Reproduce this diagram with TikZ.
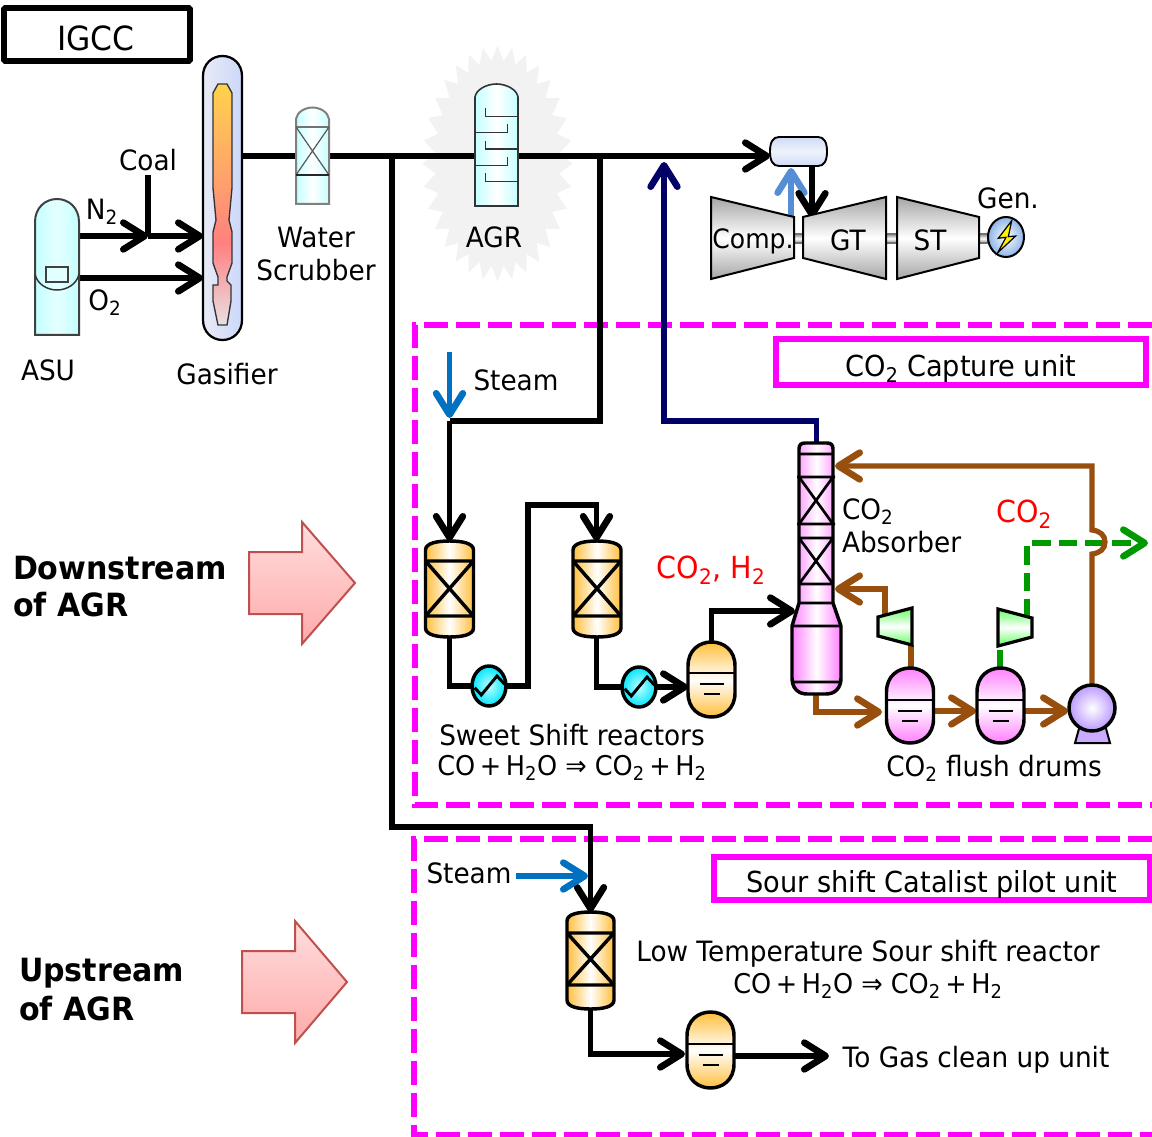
\documentclass[tikz,border=0pt]{standalone}
\usepackage{fontspec}
\setmainfont{DejaVu Sans}[FakeStretch=0.94]
\usetikzlibrary{arrows.meta}
\pgfdeclarelayer{bg}
\pgfsetlayers{bg,main}
\definecolor{brownp}{HTML}{984E0C}
\definecolor{greenp}{HTML}{009A00}
\definecolor{navyp}{HTML}{000066}
\definecolor{bluep}{HTML}{0070C0}
\definecolor{airp}{HTML}{558ED5}
\definecolor{mag}{HTML}{FF00FF}
\definecolor{orangev}{HTML}{FFBE3C}
\definecolor{magv}{HTML}{FF80FF}
\definecolor{cyanv}{HTML}{C4FFFF}
\definecolor{flameA}{HTML}{FFD24D}
\definecolor{flameB}{HTML}{FF8080}
\definecolor{flameC}{HTML}{E8E0E4}
\definecolor{arrA}{HTML}{FFDDDD}
\definecolor{arrB}{HTML}{FFAAAA}
\definecolor{arrD}{HTML}{C0504D}
\definecolor{gasL}{HTML}{E8EAF6}
\definecolor{gasR}{HTML}{CCD8FA}
\definecolor{burnO}{HTML}{CFDBF5}
\definecolor{burnM}{HTML}{EEF2FB}
\definecolor{genO}{HTML}{8DB4E8}
\definecolor{pumpO}{HTML}{BB99FF}
\definecolor{pumpB}{HTML}{CCAAFF}
\definecolor{compG}{HTML}{66FF66}
\pgfdeclareverticalshading{flameshade}{100bp}{color(0bp)=(flameC); color(25bp)=(flameC); color(42bp)=(flameB); color(75bp)=(flameA); color(100bp)=(flameA)}
\tikzset{
  x=0.75pt,y=-0.75pt,
  eq/.style 2 args={rectangle,inner sep=0pt,outer sep=0pt,minimum width=(#1)*0.75pt,minimum height=(#2)*0.75pt},
  txt/.style={inner sep=0pt,outer sep=0pt,font=\fontsize{21}{25}\selectfont},
  wide/.style={inner sep=0pt,outer sep=0pt,font=\fontsize{21.7}{25}\selectfont},
  eqn/.style={inner sep=0pt,outer sep=0pt,font=\fontsize{20.4}{25}\selectfont},
  redt/.style={inner sep=0pt,outer sep=0pt,text=red,font=\fontsize{22.8}{27}\selectfont},
  head/.style={inner sep=0pt,outer sep=0pt,font=\fontsize{24}{29}\selectfont\bfseries,align=left},
  pipe/.style={line width=4.4pt,draw=black},
  cpipe/.style={line width=3.9pt,draw=#1},
  tip/.style={-{Straight Barb[length=16pt,width=20pt,round,line width=5pt]}},
  vessel/.style={line width=2.6pt,draw=black},
  thin vessel/.style={line width=1.5pt,draw=black!75},
  dashbox/.style={line width=4.2pt,draw=mag,dash pattern=on 18pt off 6pt},
  labelbox/.style={line width=3.8pt,draw=mag},
  turb/.style={line width=1.5pt,draw=black,top color=black!35,bottom color=black!35,middle color=white},
  shaft/.style={line width=.8pt,draw=black!55,top color=black!45,bottom color=black!45,middle color=white},
  minit/.style={line width=2.4pt,draw=black,top color=#1,bottom color=#1,middle color=white},
  bigarrow/.style={line width=1.5pt,draw=arrD,top color=arrA,bottom color=arrB},
}
\newcommand{\reactorshape}[6]{% cx top bot l1 l2 halfwidth
  \draw[vessel,left color=orangev,right color=orangev,middle color=white]
    (#1-#6,#2+9) .. controls (#1-#6,#2+2) and (#1-12,#2) .. (#1,#2)
    .. controls (#1+12,#2) and (#1+#6,#2+2) .. (#1+#6,#2+9)
    -- (#1+#6,#3-9) .. controls (#1+#6,#3-2) and (#1+12,#3) .. (#1,#3)
    .. controls (#1-12,#3) and (#1-#6,#3-2) .. (#1-#6,#3-9) -- cycle;
  \draw[vessel] (#1-#6,#4) -- (#1+#6,#4) (#1-#6,#5) -- (#1+#6,#5)
    (#1-#6,#4) -- (#1+#6,#5) (#1+#6,#4) -- (#1-#6,#5);
}
\newcommand{\drumshape}[7]{% cx top bot liq d1 d2 colour
  \draw[vessel,top color=#7,bottom color=#7,middle color=white]
    (#1-23.5,#2+24) .. controls (#1-23.5,#2+8) and (#1-12,#2) .. (#1,#2)
    .. controls (#1+12,#2) and (#1+23.5,#2+8) .. (#1+23.5,#2+24)
    -- (#1+23.5,#3-24) .. controls (#1+23.5,#3-8) and (#1+12,#3) .. (#1,#3)
    .. controls (#1-12,#3) and (#1-23.5,#3-8) .. (#1-23.5,#3-24) -- cycle;
  \draw[line width=2pt,draw=black] (#1-23.5,#4) -- (#1+23.5,#4)
    (#1-12,#5) -- (#1+12,#5) (#1-8,#6) -- (#1+8,#6);
}
\newcommand{\hxshape}[2]{%
  \draw[vessel,inner color=cyan!25,outer color=cyan!90!blue] (#1,#2) ellipse [x radius=17*0.75pt,y radius=20*0.75pt];
  \draw[line width=2.2pt,draw=black] (#1-14.3,#2+1.7) -- (#1-7.7,#2+9) -- (#1+8,#2-10) -- (#1+15.7,#2-1.7);
}
\begin{document}
\begin{tikzpicture}
\useasboundingbox (0,0) rectangle (1152,1137);
% --- equipment anchors
\node[eq={39}{284}] (gas) at (222.5,198) {};
\node[eq={44}{136}] (asu) at (57,267) {};
\node[eq={33}{97}] (scrub) at (312.5,155.5) {};
\node[eq={43}{122}] (agr) at (496.5,145) {};
\node[eq={57}{29}] (burner) at (798.5,151.5) {};
\node[eq={83}{82}] (comp) at (752.5,238) {};
\node[eq={83}{82}] (gt) at (844.5,238) {};
\node[eq={82}{82}] (st) at (938,238) {};
\node[eq={36}{40}] (gen) at (1006,237) {};
\node[eq={48}{96}] (r1) at (449.5,589) {};
\node[eq={48}{96}] (r2) at (596.5,589) {};
\node[eq={47}{97}] (r3) at (590.5,960.5) {};
\node[eq={34}{40}] (hx1) at (489,686) {};
\node[eq={34}{39}] (hx2) at (639,687) {};
\node[eq={47}{75}] (d1) at (711.5,679.5) {};
\node[eq={47}{76}] (d2) at (710.5,1050) {};
\node[eq={47}{75}] (da) at (910,705.5) {};
\node[eq={47}{75}] (db) at (1000.5,705.5) {};
\node[eq={49}{251}] (abs) at (816.5,568.5) {};
\node[eq={46}{46}] (pump) at (1092,708) {};
\node[eq={34}{37}] (c1) at (895,626.5) {};
\node[eq={34}{37}] (c2) at (1015,627.5) {};
% --- junctions
\coordinate (jcoal) at (148,236);
\coordinate (jmainA) at (392,156);
\coordinate (jmainB) at (600,156);
\coordinate (jsteam) at (449.5,421);
\coordinate (steamtop) at (449.5,352);
\coordinate (coaltop) at (148,175);
\coordinate (steam2) at (516,876);
\coordinate (gasout) at (1148,543);
\coordinate (cleanup) at (829,1056);
\coordinate (navytip) at (664,162);

\begin{pgfonlayer}{bg}
  \fill[black!5] plot[samples at={0,...,63}] ({497.5+(75-13*mod(\x,2))*sin(\x*5.625)},{163.5-(118-15*mod(\x,2))*cos(\x*5.625)}) -- cycle;
  \draw[dashbox] (1152,325) -- (415,325) -- (415,805) -- (1152,805);
  \draw[dashbox] (1152,839) -- (414,839) -- (414,1135) -- (1152,1135);
  \draw[pipe] (gas.east |- 0,156) -- (agr.center |- 0,156);
\end{pgfonlayer}

% --- pipes
\draw[pipe,tip] (agr.center |- 0,156) -- (burner.west |- 0,156);
\draw[pipe,tip] (asu.east |- jcoal) -- (jcoal);
\draw[pipe,tip] (jcoal) -- (gas.west |- jcoal);
\draw[pipe] (coaltop) -- (jcoal);
\draw[pipe,tip] (asu.east |- 0,278) -- (gas.west |- 0,278);
\draw[pipe,tip] (jmainA) -- (392,827) -- (r3.north |- 0,827) -- (r3.north);
\draw[pipe] (jmainB) -- (600,421) -- (jsteam);
\draw[pipe,tip] (jsteam) -- (r1.north);
\draw[cpipe=bluep,tip] (steamtop) -- (jsteam |- 0,418);
\draw[cpipe=bluep,tip] (steam2) -- (588,876);
\draw[cpipe=navyp,tip] (abs.north) -- (abs.north |- 0,421) -- (664,421) -- (navytip);
\draw[cpipe=airp,tip] (791,218) -- (791,168);
\draw[pipe,tip] (812,166) -- (812,218);
\draw[pipe] (r1.south) -- (r1.south |- hx1) -- (hx1.center);
\draw[pipe,tip] (hx1.center) -- (528,686) -- (528,505) -- (r2.north |- 0,505) -- (r2.north);
\draw[pipe] (r2.south) -- (r2.south |- hx2) -- (hx2.center);
\draw[pipe,tip] (hx2.center) -- (d1.west |- hx2);
\draw[pipe,tip] (d1.north) -- (d1.north |- 0,611) -- (795,611);
\draw[pipe,tip] (r3.south) -- (r3.south |- 0,1054) -- (685,1054);
\draw[pipe,tip] (d2.east |- 0,1056) -- (cleanup);
\draw[cpipe=brownp,tip] (816,694) -- (816,712) -- (882,712);
\draw[cpipe=brownp,tip] (da.east |- 0,711) -- (976,711);
\draw[cpipe=brownp,tip] (db.east |- 0,711) -- (1068,711);
\draw[cpipe=brownp] (911,668) -- (911,645);
\draw[cpipe=brownp,tip] (885,617) -- (885,589) -- (835,589);
\draw[cpipe=greenp] (1000,668) -- (1000,650);
\draw[cpipe=greenp,dash pattern=on 14pt off 6pt,tip] (1027,618) -- (1027,543) -- (gasout);
\draw[cpipe=brownp,tip] (pump.north) -- (1092,554)
  .. controls (1100,553) and (1105,549) .. (1105,542)
  .. controls (1105,535) and (1100,531) .. (1092,530)
  -- (1092,466) -- (835,466);

% --- IGCC
\draw[line width=4.4pt,rounded corners=1pt] (4,8) rectangle (190,61);
% --- gasifier
\draw[line width=1.7pt,left color=gasL,right color=gasR] (203,76) .. controls (203,64) and (212,56) .. (222.5,56) .. controls (233,56) and (242,64) .. (242,76) -- (242,320) .. controls (242,332) and (233,340) .. (222.5,340) .. controls (212,340) and (203,332) .. (203,320) -- cycle;
\draw[line width=1pt,draw=black!80,shading=flameshade,shading angle=0] (218,84) -- (227,84) -- (232,93) -- (232,188) -- (229,220) -- (232,232) -- (232,263) -- (227,277) -- (227,281) -- (231,285) -- (231,301) -- (227,325) -- (218,325) -- (213,301) -- (213,285) -- (218,285) -- (218,277) -- (213,263) -- (213,232) -- (216,220) -- (213,188) -- (213,93) -- cycle;
% --- ASU
\draw[line width=1.5pt,draw=black!75,left color=cyanv,right color=cyanv,middle color=cyanv!45] (35,222) .. controls (35,208) and (45,199) .. (57,199) .. controls (69,199) and (79,208) .. (79,222) -- (79,335) -- (35,335) -- cycle;
\draw[line width=1.1pt,draw=black!80] (35,274) .. controls (37,284) and (47,290) .. (57,290) .. controls (67,290) and (77,284) .. (79,274);
\draw[line width=1.2pt,draw=black!75,fill=cyanv!50] (46,267) rectangle (68,282);
% --- scrubber
\draw[thin vessel,draw=black!50,left color=cyanv,right color=cyanv,middle color=white] (296,119) .. controls (297,112) and (305,107.5) .. (312.5,107.5) .. controls (320,107.5) and (328,112) .. (329,119) -- (329,204) -- (296,204) -- cycle;
\draw[line width=1.2pt,draw=black!55] (296,127) -- (329,127);
\draw[line width=.9pt,draw=black!65] (296,127) -- (329,175) (329,127) -- (296,175);
\draw[line width=.9pt,draw=black!85] (296,175) -- (329,175);
% --- AGR
\draw[line width=1.2pt,draw=black!80,left color=cyanv,right color=cyanv,middle color=white] (475,97) .. controls (476,90) and (486,84) .. (496.5,84) .. controls (507,84) and (517,90) .. (518,97) -- (518,206) -- (475,206) -- cycle;
\draw[line width=1.1pt,draw=black!80]
  (518,116.7) -- (485.7,116.7) -- (485.7,108.3)
  (475,132.3) -- (507.3,132.3) -- (507.3,124.3)
  (518,149) -- (485.7,149) -- (485.7,141)
  (475,165.7) -- (507.3,165.7) -- (507.3,156.7)
  (518,181.7) -- (485.7,181.7) -- (485.7,173.3);
% --- burner
\draw[line width=1.4pt,top color=burnO,bottom color=burnO,middle color=burnM] (779,137) -- (818,137) .. controls (824,137) and (827,142) .. (827,151.5) .. controls (827,161) and (824,166) .. (818,166) -- (779,166) .. controls (773,166) and (770,161) .. (770,151.5) .. controls (770,142) and (773,137) .. (779,137) -- cycle;
% --- turbines
\draw[shaft] (794,234) rectangle (803,243);
\draw[shaft] (886,234) rectangle (897,243);
\draw[shaft] (979,234) rectangle (988,243);
\draw[turb] (711,197) -- (794,217) -- (794,258) -- (711,279) -- cycle;
\draw[turb] (886,197) -- (803,217) -- (803,258) -- (886,279) -- cycle;
\draw[turb] (897,197) -- (979,217) -- (979,258) -- (897,279) -- cycle;
\draw[line width=1.5pt,inner color=white,outer color=genO] (gen.center) ellipse [x radius=18*0.75pt,y radius=20*0.75pt];
\draw[line width=.9pt,fill=yellow] (1011.7,220.7) -- (998.3,238.3) -- (1006,237.3) -- (997.7,252.7) -- (1015.7,236) -- (1008.3,236.7) -- cycle;
% --- reactors
\reactorshape{449.5}{541}{637}{561}{616}{24}
\reactorshape{597}{541}{637}{561}{616}{24}
\reactorshape{590.5}{912}{1009}{933}{985}{23.5}
\hxshape{489}{686}
\hxshape{639}{687}
\drumshape{711.5}{642}{717}{673}{684}{694}{orangev}
\drumshape{710.5}{1012}{1088}{1044}{1055}{1065}{orangev}
\drumshape{910}{668}{743}{700}{711}{721}{magv}
\drumshape{1000.5}{668}{743}{700}{711}{721}{magv}
% --- absorber
\draw[vessel,left color=magv,right color=magv,middle color=white] (805,443) -- (827,443) .. controls (831,443) and (833,445) .. (833,449) -- (833,603) -- (841,626) -- (841,678) .. controls (841,688) and (835,694) .. (826,694) -- (807,694) .. controls (798,694) and (792,688) .. (792,678) -- (792,626) -- (799,603) -- (799,449) .. controls (799,445) and (801,443) .. (805,443) -- cycle;
\draw[line width=2pt,draw=black] (799,454) -- (833,454) (797,477) -- (835,477) (797,524) -- (835,524) (799,538) -- (833,538) (799,584) -- (833,584) (799,603) -- (833,603) (792,626) -- (841,626) (792,682) -- (841,682)
 (799,477) -- (833,524) (833,477) -- (799,524) (799,538) -- (833,584) (833,538) -- (799,584);
% --- small compressors and pump
\draw[minit=compG] (878,617) -- (912,608) -- (912,645) -- (878,636) -- cycle;
\draw[minit=compG] (998,609) -- (1032,618) -- (1032,637) -- (998,646) -- cycle;
\draw[line width=1.5pt,fill=pumpB] (1075,743) -- (1080,725) -- (1105,725) -- (1110,743) -- cycle;
\draw[vessel,inner color=white,outer color=pumpO] (pump.center) circle [radius=23*0.75pt];
% --- dashed frame labels
\draw[labelbox] (776,339) rectangle (1146,385);
\draw[labelbox] (714,857) rectangle (1150,900);
% --- texts
\node[inner sep=0pt,font=\fontsize{25}{29}\selectfont] (tigcc) at (96,38) {IGCC};
\node[txt] (tcoal) at (148,160) {Coal};
\node[txt] (tn2) at (102,212) {N\textsubscript{2}};
\node[txt] (to2) at (105,303) {O\textsubscript{2}};
\node[txt] (tasu) at (48,370) {ASU};
\node[txt] (tgas) at (227,374) {Gasifier};
\node[txt] (twater) at (316,237) {Water};
\node[txt] (tscrub) at (316,270) {Scrubber};
\node[txt] (tagr) at (494,237) {AGR};
\node[inner sep=0pt,font=\fontsize{20}{24}\selectfont] (tcomp) at (753,241) {Comp.};
\node[txt] (tgt) at (848,240) {GT};
\node[txt] (tst) at (930,240) {ST};
\node[txt] (tgen) at (1008,198) {Gen.};
\node[wide] (tcap) at (961,369) {CO\textsubscript{2} Capture unit};
\node[txt] (tsteamA) at (516,380) {Steam};
\node[txt,anchor=west] (tabsA) at (842,512) {CO\textsubscript{2}};
\node[txt,anchor=west] (tabsB) at (842,542) {Absorber};
\node[redt] (tco2) at (1024,514) {CO\textsubscript{2}};
\node[redt] (tco2h2) at (711,570) {CO\textsubscript{2}, H\textsubscript{2}};
\node[txt] (tsweet) at (572,735) {Sweet Shift reactors};
\node[eqn] (tsweetr) at (572,768) {CO\,+\,H\textsubscript{2}O ⇒ CO\textsubscript{2}\,+\,H\textsubscript{2}};
\node[txt] (tflush) at (994,768) {CO\textsubscript{2} flush drums};
\node[txt] (tsteamB) at (469,873) {Steam};
\node[wide] (tsour) at (932,885) {Sour shift Catalist pilot unit};
\node[txt] (tlow) at (868,954) {Low Temperature Sour shift reactor};
\node[eqn] (tlowr) at (868,986) {CO\,+\,H\textsubscript{2}O ⇒ CO\textsubscript{2}\,+\,H\textsubscript{2}};
\node[txt] (tclean) at (976,1060) {To Gas clean up unit};
\node[head,anchor=west] (tdownA) at (13,568) {Downstream};
\node[head,anchor=west] (tdownB) at (13,605) {of AGR};
\node[head,anchor=west] (tupA) at (19,973) {Upstream};
\node[head,anchor=west] (tupB) at (19,1009) {of AGR};
% --- big arrows
\draw[bigarrow] (249,552) -- (302,552) -- (302,522) -- (355,583) -- (302,644) -- (302,614) -- (249,614) -- cycle;
\draw[bigarrow] (242,951) -- (295,951) -- (295,921) -- (347,982) -- (295,1043) -- (295,1013) -- (242,1013) -- cycle;
\end{tikzpicture}
\end{document}
